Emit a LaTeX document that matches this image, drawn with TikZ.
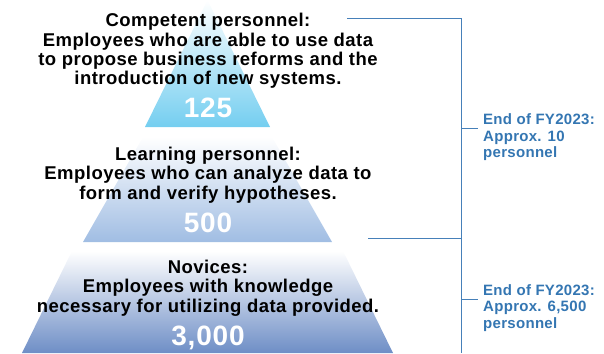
\documentclass[tikz,border=0pt]{standalone}
\usepackage{fontspec}
\setmainfont{Liberation Sans}
\usetikzlibrary{positioning, calc}

\definecolor{tiercyan}{RGB}{116,206,240}
\definecolor{tiermid}{RGB}{160,189,227}
\definecolor{tierlow}{RGB}{110,142,198}
\definecolor{lineblue}{RGB}{70,128,185}
\definecolor{noteblue}{RGB}{52,118,178}

\begin{document}
\begin{tikzpicture}[
    x=1pt, y=-1pt,
    desc/.style={font=\fontsize{18.5}{19.3}\selectfont\bfseries\addfontfeature{LetterSpace=2.5},
                 align=center, inner sep=0pt},
    count/.style={font=\fontsize{28}{28}\selectfont\bfseries\addfontfeature{LetterSpace=3},
                  text=white, inner sep=0pt},
    note/.style={font=\fontsize{15}{16.5}\selectfont\bfseries\addfontfeature{LetterSpace=2},
                 text=noteblue, align=left, anchor=west, inner sep=0pt},
    bracket/.style={draw=lineblue, line width=0.9pt},
]

\useasboundingbox (0,0) rectangle (604,353);

% === Pyramid tiers ===

\shade[top color=white, middle color=tiercyan, bottom color=tiercyan]
    (207.5,0) -- (270,127) -- (145,127) -- cycle;
\shade[top color=white, middle color=tiermid, bottom color=tiermid]
    (143,137) -- (272,137) -- (332,242) -- (83,242) -- cycle;
\shade[top color=white, middle color=tierlow!85!white, bottom color=tierlow]
    (72,251) -- (343,251) -- (393,353) -- (22,353) -- cycle;

% === Tier texts ===

\node[desc] (desc-top) at (208,51) {Competent personnel:\\Employees who are able to use data\\to propose business reforms and the\\introduction of new systems.};
\node[count] (count-top) at (208,108) {125};

\node[desc] (desc-mid) at (208,175) {Learning personnel:\\Employees who can analyze data to\\form and verify hypotheses.};
\node[count] (count-mid) at (208,223) {500};

\node[desc] (desc-low) at (208,288) {Novices:\\Employees with knowledge\\necessary for utilizing data provided.};
\node[count] (count-low) at (208,338) {3,000};

% === Bracket on the right ===

\coordinate (brk-start) at (347,18);
\coordinate (brk-top) at (461,18);
\coordinate (brk-split) at (368,238);
\coordinate (brk-mid) at (461,238);
\coordinate (brk-bot) at (461,353);
\coordinate (tick-a) at (461,128);
\coordinate (tick-a-end) at (478,128);
\coordinate (tick-b) at (461,299);
\coordinate (tick-b-end) at (478,299);

\node[note] (note-a) at (483,137.5) {End of FY2023:\\Approx. 10\\personnel};
\node[note] (note-b) at (483,308) {End of FY2023:\\Approx. 6,500\\personnel};

\draw[bracket] (brk-start) -- (brk-top) -- (brk-bot);
\draw[bracket] (brk-split) -- (brk-mid);
\draw[bracket] (tick-a) -- (tick-a-end);
\draw[bracket] (tick-b) -- (tick-b-end);

\end{tikzpicture}
\end{document}
